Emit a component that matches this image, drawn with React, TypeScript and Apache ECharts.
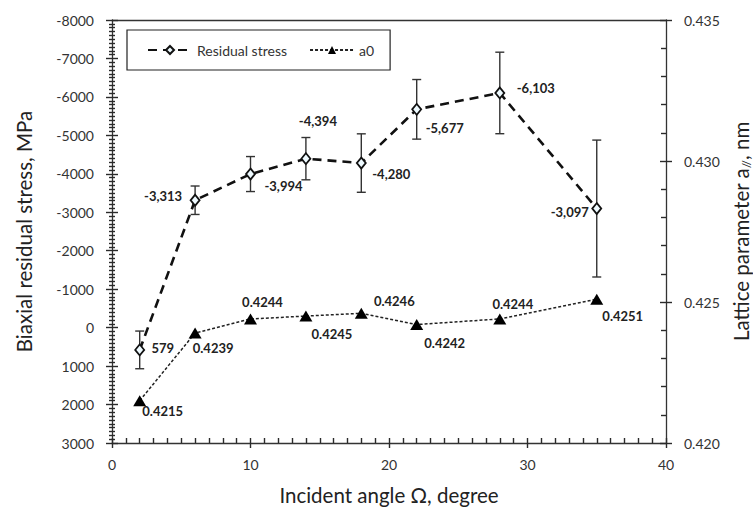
import React, { useEffect, useRef } from 'react';
import * as echarts from 'echarts';

// Incident angle (degree)
const angles = [2, 6, 10, 14, 18, 22, 28, 35];
// Biaxial residual stress (MPa) and its error (±)
const residualStress = [579, -3313, -3994, -4394, -4280, -5677, -6103, -3097];
const stressError = [490, 370, 455, 550, 760, 775, 1060, 1780];
// Lattice parameter a0 (nm)
const latticeA0 = [0.4215, 0.4239, 0.4244, 0.4245, 0.4246, 0.4242, 0.4244, 0.4251];

// Label placement (pixel offsets from each marker)
const stressLabelOffset = [[23, -2], [-32, -4], [33, 12], [12, -38], [30, 11], [28, 19], [36, -5], [-27, 3]];
const a0LabelOffset = [[23, 10], [18, 15], [12, -17], [26, 18], [33, -12], [28, 18], [13, -15], [26, 17]];

const FONT = 'Lato, "Open Sans", sans-serif';
const AXIS_COLOR = '#333';

export default function App() {
  const ref = useRef<HTMLDivElement>(null);

  useEffect(() => {
    const chart = echarts.init(ref.current!, null, { renderer: 'svg' });

    const stressData = angles.map((x, i) => ({
      value: [x, residualStress[i]],
      label: { offset: stressLabelOffset[i] },
    }));
    const a0Data = angles.map((x, i) => ({
      value: [x, latticeA0[i]],
      label: { offset: a0LabelOffset[i] },
    }));
    const errorData = angles.map((x, i) => [x, residualStress[i] - stressError[i], residualStress[i] + stressError[i]]);

    const axisLineStyle = { color: AXIS_COLOR, width: 1.3 };
    const tick = () => ({ color: '#2a2a2a', width: 1.4 });
    const labelStyle = {
      show: true,
      position: 'inside',
      align: 'center',
      verticalAlign: 'middle',
      fontFamily: FONT,
      fontSize: 13,
      fontWeight: 'bold',
      color: '#222',
    };

    const option: any = {
      animation: false,
      textStyle: { fontFamily: FONT },
      grid: { left: 112, right: 87, top: 20, bottom: 67, outerBoundsMode: 'none' },
      legend: {
        left: 127,
        top: 30,
        data: ['Residual stress', 'a0'],
        borderColor: '#222',
        borderWidth: 1.2,
        borderRadius: 0,
        padding: [13, 16, 13, 20],
        itemGap: 22,
        itemWidth: 44,
        itemHeight: 10,
        textStyle: { fontFamily: FONT, fontSize: 14, color: '#333' },
      },
      xAxis: [
        {
          type: 'value',
          min: 0,
          max: 40,
          interval: 10,
          axisLine: { show: true, onZero: false, lineStyle: axisLineStyle },
          axisTick: { show: true, length: 5, lineStyle: tick() },
          axisLabel: { color: AXIS_COLOR, fontSize: 14, margin: 14, fontFamily: FONT },
          splitLine: { show: false },
          name: 'Incident angle Ω, degree',
          nameLocation: 'middle',
          nameGap: 41,
          nameTextStyle: { fontSize: 20.5, color: '#222', fontFamily: FONT },
        },
        {
          // top frame line
          type: 'value',
          min: 0,
          max: 40,
          interval: 10,
          position: 'top',
          axisLine: { show: true, onZero: false, lineStyle: axisLineStyle },
          axisTick: { show: false },
          axisLabel: { show: false },
          splitLine: { show: false },
        },
        {
          // inner major + minor ticks of the bottom axis
          type: 'value',
          min: 0,
          max: 40,
          interval: 10,
          position: 'bottom',
          offset: 0,
          axisLine: { show: false, onZero: false },
          axisTick: { show: true, inside: true, length: 5, lineStyle: tick() },
          minorTick: { show: true, splitNumber: 10, length: 5, lineStyle: tick() },
          axisLabel: { show: false },
          splitLine: { show: false },
        },
      ],
      yAxis: [
        {
          type: 'value',
          inverse: true,
          min: -8000,
          max: 3000,
          interval: 1000,
          position: 'left',
          axisLine: { show: true, onZero: false, lineStyle: axisLineStyle },
          axisTick: { show: true, length: 6, lineStyle: tick() },
          minorTick: { show: true, splitNumber: 10, length: 3, lineStyle: tick() },
          axisLabel: {
            color: AXIS_COLOR,
            fontSize: 14,
            margin: 18,
            fontFamily: FONT,
            formatter: (v: number) => String(v),
          },
          splitLine: { show: false },
          name: 'Biaxial residual stress, MPa',
          nameLocation: 'middle',
          nameGap: 78,
          nameRotate: 90,
          nameTextStyle: { fontSize: 20.5, color: '#222', fontFamily: FONT },
        },
        {
          type: 'value',
          min: 0.42,
          max: 0.435,
          interval: 0.005,
          position: 'right',
          axisLine: { show: true, onZero: false, lineStyle: axisLineStyle },
          axisTick: { show: true, length: 6, lineStyle: tick() },
          axisLabel: {
            color: AXIS_COLOR,
            fontSize: 14,
            margin: 18,
            fontFamily: FONT,
            formatter: (v: number) => v.toFixed(3),
          },
          splitLine: { show: false },
          name: 'Lattice parameter a{sub|//}, nm',
          nameLocation: 'middle',
          nameGap: 50,
          nameRotate: 90,
          nameTextStyle: {
            fontSize: 20.5,
            color: '#222',
            fontFamily: FONT,
            rich: {
              sub: { fontSize: 12, color: '#222', fontFamily: FONT, padding: [10, 0, 0, 0] },
            },
          },
        },
        {
          // inner ticks of the stress axis
          type: 'value',
          inverse: true,
          min: -8000,
          max: 3000,
          interval: 1000,
          position: 'left',
          offset: 0,
          axisLine: { show: false, onZero: false },
          axisTick: { show: true, inside: true, length: 6, lineStyle: tick() },
          minorTick: { show: true, splitNumber: 10, length: 3, lineStyle: tick() },
          axisLabel: { show: false },
          splitLine: { show: false },
        },
        {
          // inner ticks of the lattice-parameter axis
          type: 'value',
          min: 0.42,
          max: 0.435,
          interval: 0.005,
          position: 'right',
          offset: 0,
          axisLine: { show: false, onZero: false },
          axisTick: { show: true, inside: true, length: 6, lineStyle: tick() },
          minorTick: { show: true, splitNumber: 5, length: 5, lineStyle: tick() },
          axisLabel: { show: false },
          splitLine: { show: false },
        },
      ],
      series: [
        {
          type: 'custom',
          name: 'error',
          xAxisIndex: 0,
          yAxisIndex: 0,
          z: 2,
          encode: { x: 0, y: [1, 2] },
          data: errorData,
          renderItem: (_params: any, api: any) => {
            const x = api.value(0);
            const lo = api.coord([x, api.value(1)]);
            const hi = api.coord([x, api.value(2)]);
            const w = 4.5;
            const style = { stroke: '#333', lineWidth: 1.4 };
            return {
              type: 'group',
              children: [
                { type: 'line', shape: { x1: lo[0], y1: lo[1], x2: hi[0], y2: hi[1] }, style },
                { type: 'line', shape: { x1: lo[0] - w, y1: lo[1], x2: lo[0] + w, y2: lo[1] }, style },
                { type: 'line', shape: { x1: hi[0] - w, y1: hi[1], x2: hi[0] + w, y2: hi[1] }, style },
              ],
            };
          },
        },
        {
          type: 'line',
          name: 'Residual stress',
          xAxisIndex: 0,
          yAxisIndex: 0,
          z: 3,
          data: stressData,
          symbol: 'diamond',
          symbolSize: [9, 11],
          showAllSymbol: true,
          lineStyle: { color: '#111', width: 2.6, type: [9, 6] },
          itemStyle: { color: '#eefaff', borderColor: '#111', borderWidth: 1.8 },
          label: {
            ...labelStyle,
            formatter: (p: any) => Number(p.value[1]).toLocaleString('en-US'),
          },
        },
        {
          type: 'line',
          name: 'a0',
          xAxisIndex: 0,
          yAxisIndex: 1,
          z: 3,
          data: a0Data,
          symbol: 'triangle',
          symbolSize: [13, 11],
          showAllSymbol: true,
          lineStyle: { color: '#222', width: 1.5, type: [3, 2] },
          itemStyle: { color: '#000', borderColor: '#000', borderWidth: 0 },
          label: {
            ...labelStyle,
            formatter: (p: any) => Number(p.value[1]).toFixed(4),
          },
        },
      ],
    };

    chart.setOption(option);
    return () => chart.dispose();
  }, []);

  return (
    <div
      ref={ref}
      style={{ position: 'fixed', left: 0, top: 0, width: 753, height: 510, background: '#fff' }}
    />
  );
}
